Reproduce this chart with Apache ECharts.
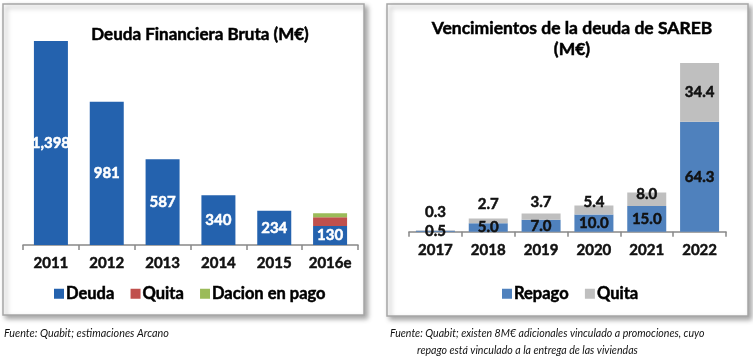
<!DOCTYPE html>
<html><head><meta charset="utf-8">
<script src="https://cdn.jsdelivr.net/npm/echarts@6/dist/echarts.min.js"></script>
<style>html,body{margin:0;padding:0;background:#fff;}#c{width:753px;height:360px;}</style>
</head><body><div id="c"></div>
<script>
// Left chart data
const categoriesL = ['2011', '2012', '2013', '2014', '2015', '2016e'];
const deuda = [1398, 981, 587, 340, 234, 130];
const quitaL = [null, null, null, null, null, 60];
const dacion = [null, null, null, null, null, 28];
const deudaLabels = ['1,398', '981', '587', '340', '234', '130'];
// Right chart data
const categoriesR = ['2017', '2018', '2019', '2020', '2021', '2022'];
const repago = [0.5, 5.0, 7.0, 10.0, 15.0, 64.3];
const quitaR = [0.3, 2.7, 3.7, 5.4, 8.0, 34.4];

// label layout helpers for the gray series (position tweaks only)
const grayLabelPos = ['top', 'top', 'top', 'top', 'inside', 'inside'];
const grayLabelDy = [-9, -5, -2, 6, -5, 0];

const FONT = 'Lato, "Open Sans", sans-serif';
const chart = echarts.init(document.getElementById('c'), null, {renderer: 'canvas'});

const bold = (size, color) => ({fontFamily: FONT, fontWeight: 'bold', fontSize: size, color: color,
  textBorderColor: color, textBorderWidth: 0.5});

const axisCommon = {
  type: 'category',
  axisLine: {lineStyle: {color: '#888', width: 1.5}},
  axisTick: {show: true, length: 5, lineStyle: {color: '#888', width: 1.5}},
  axisLabel: Object.assign(bold(15, '#111'), {margin: 11})
};

const option = {
  animation: false,
  backgroundColor: '#fff',
  graphic: [
    {type: 'rect', z: -10, shape: {x: 3, y: 4, width: 361, height: 311},
     style: {fill: '#fff', stroke: '#a6a6a6', lineWidth: 1.5, shadowBlur: 5, shadowOffsetX: 3, shadowOffsetY: 3, shadowColor: 'rgba(0,0,0,0.35)'}},
    {type: 'rect', z: -10, shape: {x: 387, y: 4, width: 361, height: 312},
     style: {fill: '#fff', stroke: '#a6a6a6', lineWidth: 1.5, shadowBlur: 5, shadowOffsetX: 3, shadowOffsetY: 3, shadowColor: 'rgba(0,0,0,0.35)'}},
    {type: 'text', left: 4, top: 328,
     style: {text: 'Fuente: Quabit; estimaciones Arcano', fontFamily: FONT, fontStyle: 'italic', fontSize: 10.8, fill: '#111'}},
    {type: 'text', left: 390, top: 328,
     style: {text: 'Fuente: Quabit; existen 8M€ adicionales vinculado a promociones, cuyo', fontFamily: FONT, fontStyle: 'italic', fontSize: 10.6, fill: '#111'}},
    {type: 'text', left: 417, top: 345,
     style: {text: 'repago está vinculado a la entrega de las viviendas', fontFamily: FONT, fontStyle: 'italic', fontSize: 10.6, fill: '#111'}}
  ],
  title: [
    {text: 'Deuda Financiera Bruta (M€)', left: 195, top: 21, textAlign: 'center',
     textStyle: Object.assign(bold(17, '#000'))},
    {text: 'Vencimientos de la deuda de SAREB\n(M€)', left: 567, top: 13, textAlign: 'center',
     textStyle: Object.assign(bold(17.5, '#000'), {lineHeight: 21})}
  ],
  legend: [
    {left: 49, top: 280, itemWidth: 10, itemHeight: 10, icon: 'rect', itemGap: 16,
     textStyle: Object.assign(bold(16.5, '#000'), {padding: [0, 0, 0, -3]}),
     data: [{name: 'Deuda', itemStyle: {color: '#2462AE'}}, {name: 'Quita', itemStyle: {color: '#C0504D'}}, {name: 'Dacion en pago', itemStyle: {color: '#9BBB59'}}],
     selectedMode: false},
    {left: 497, top: 280, itemWidth: 10, itemHeight: 10, icon: 'rect', itemGap: 16,
     textStyle: Object.assign(bold(16.5, '#000'), {padding: [0, 0, 0, -3]}),
     data: [{name: 'Repago', itemStyle: {color: '#4F81BD'}}, {name: 'Quita', itemStyle: {color: '#BFBFBF'}}],
     selectedMode: false}
  ],
  grid: [
    {left: 23, width: 335, top: 26, height: 219},
    {left: 409, width: 317, top: 43.7, height: 188}
  ],
  xAxis: [
    Object.assign({}, axisCommon, {gridIndex: 0, data: categoriesL}),
    Object.assign({}, axisCommon, {gridIndex: 1, data: categoriesR})
  ],
  yAxis: [
    {type: 'value', gridIndex: 0, min: 0, max: 1500, show: false},
    {type: 'value', gridIndex: 1, min: 0, max: 110, show: false}
  ],
  series: [
    {name: 'Deuda', type: 'bar', xAxisIndex: 0, yAxisIndex: 0, stack: 'L', barWidth: 34,
     itemStyle: {color: '#2462AE'}, data: deuda,
     label: Object.assign({show: true, position: 'inside', formatter: p => deudaLabels[p.dataIndex]}, bold(15, '#fff'))},
    {name: 'Quita', type: 'bar', xAxisIndex: 0, yAxisIndex: 0, stack: 'L', barWidth: 34,
     itemStyle: {color: '#C0504D'}, data: quitaL},
    {name: 'Dacion en pago', type: 'bar', xAxisIndex: 0, yAxisIndex: 0, stack: 'L', barWidth: 34,
     itemStyle: {color: '#9BBB59'}, data: dacion},
    {name: 'Repago', type: 'bar', xAxisIndex: 1, yAxisIndex: 1, stack: 'R', barWidth: 39,
     itemStyle: {color: '#4F81BD'}, data: repago,
     label: Object.assign({show: true, position: 'inside', formatter: p => p.value.toFixed(1)}, bold(15, '#111'))},
    {name: 'Quita', type: 'bar', xAxisIndex: 1, yAxisIndex: 1, stack: 'R', barWidth: 39,
     itemStyle: {color: '#BFBFBF'},
     data: quitaR.map((v, i) => ({value: v, label: {position: grayLabelPos[i], offset: [0, grayLabelDy[i]]}})),
     label: Object.assign({show: true, distance: 2, formatter: p => p.value.toFixed(1)}, bold(15, '#111'))}
  ]
};
chart.setOption(option);
</script>
</body></html>
